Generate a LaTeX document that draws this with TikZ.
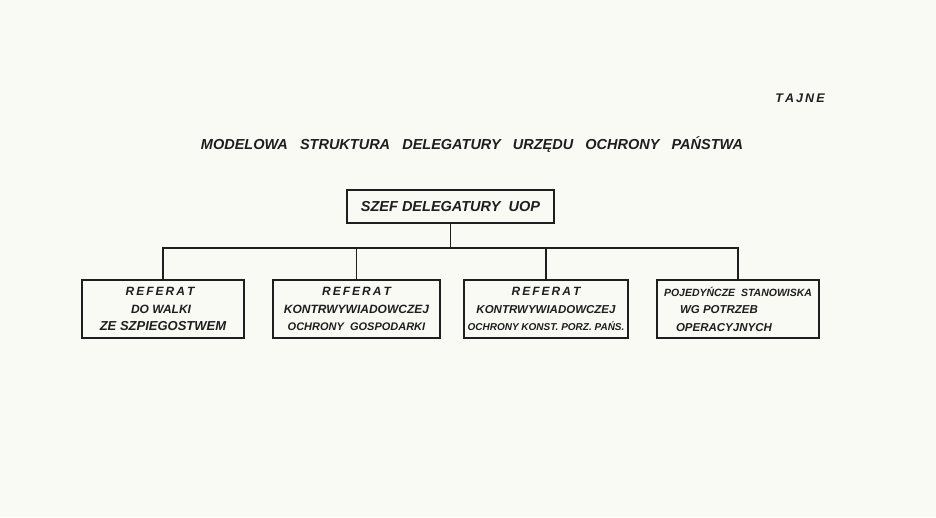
\documentclass[tikz,border=0pt]{standalone}
\usepackage{fontspec}
\setmainfont{Liberation Sans}
\definecolor{paper}{HTML}{FAFAF5}
\definecolor{ink}{HTML}{1E1E1E}
\newcommand{\fs}[1]{\fontsize{#1}{17.5}\selectfont}
\begin{document}
\begin{tikzpicture}[x=1pt,y=-1pt,
  every node/.style={text=ink},
  orgbox/.style={draw=ink, line width=2.2pt, inner sep=0pt},
  wire/.style={draw=ink, line width=1.4pt},
  lettering/.style={font={\itshape\bfseries\fontsize{#1}{17.5}\selectfont}}]
\fill[paper] (0,0) rectangle (936,517);
\useasboundingbox (0,0) rectangle (936,517);
\node[lettering=12.5] (tajne) at (800,98) {T\,A\,J\,N\,E};
\node[lettering=14.5] (title) at (472,145) {MODELOWA\ \ \ STRUKTURA\ \ \ DELEGATURY\ \ \ URZĘDU\ \ \ OCHRONY\ \ \ PAŃSTWA};
\node[orgbox, lettering=14.5, minimum width=207pt, minimum height=33pt] (szef) at (450.5,206.5) {SZEF DELEGATURY\ \ UOP};
\node[orgbox, lettering=12, minimum width=162pt, minimum height=58pt, align=center] (r1) at (163,309) {\hspace{-6pt}R\,E\,F\,E\,R\,A\,T\\ \hspace{-4pt}DO WALKI\\ \fs{13}ZE SZPIEGOSTWEM};
\node[orgbox, lettering=12, minimum width=167pt, minimum height=58pt, align=center] (r2) at (356.5,309) {R\,E\,F\,E\,R\,A\,T\\ KONTRWYWIADOWCZEJ\\ \fs{11}OCHRONY\ \ GOSPODARKI};
\node[orgbox, lettering=12, minimum width=164pt, minimum height=58pt, align=center] (r3) at (546,309) {R\,E\,F\,E\,R\,A\,T\\ \fs{11.5}KONTRWYWIADOWCZEJ\\ \fs{10}OCHRONY KONST. PORZ. PAŃS.};
\node[orgbox, lettering=11.5, minimum width=162pt, minimum height=58pt, align=left] (r4) at (738,309) {\fs{10.5}POJEDYŃCZE\ \ STANOWISKA\\ \hspace{16pt}WG POTRZEB\\ \hspace{12pt}OPERACYJNYCH};
\coordinate (bus) at (450.5,248);
\draw[wire] (szef.south) -- (bus);
\draw[wire] (r1.north) |- (bus) -| (r4.north);
\draw[wire] (r2.north) -- (r2.north |- bus);
\draw[wire] (r3.north) -- (r3.north |- bus);
\end{tikzpicture}
\end{document}
